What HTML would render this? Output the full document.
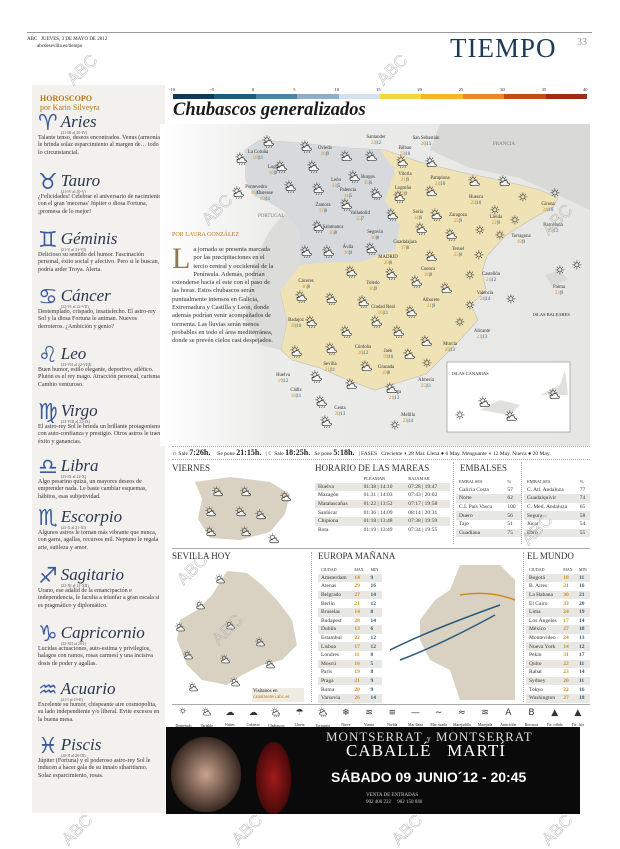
<!DOCTYPE html>
<html><head><meta charset="utf-8">
<style>
*{margin:0;padding:0;box-sizing:border-box}
body{width:620px;height:847px;background:#fff;position:relative;overflow:hidden;font-family:"Liberation Serif",serif;color:#222}
.a{position:absolute}
.sm{font-size:5.5px;line-height:7px}
.hs{font-family:"Liberation Serif",serif;font-style:italic;font-size:17px;color:#2a3550;line-height:17px}
.sym{font-size:22px;color:#3b5aa0;font-family:"DejaVu Sans",sans-serif;line-height:22px}
.body{font-size:6px;line-height:7.4px;color:#333}
.sec{font-size:9px;color:#333}
table{border-collapse:collapse}
td{font-size:5.5px;height:8.6px;padding:0 3px;color:#333}
.g td{background:#e9e7e3}
.wm{position:absolute;font-family:"Liberation Sans",sans-serif;font-size:17px;color:transparent;-webkit-text-stroke:0.4px #aaa;transform:rotate(-45deg)}
.ico{position:absolute}
.lbl{position:absolute;font-size:4.8px;color:#333;line-height:5.5px;text-align:center}
.o{color:#d08a1c}
</style></head><body>

<div class="a" style="left:27px;top:32px;width:565px;height:1px;background:#999"></div>
<div class="a sm" style="left:27px;top:36px;font-size:5px">ABC &nbsp; JUEVES, 3 DE MAYO DE 2012<br>&nbsp; &nbsp; &nbsp; &nbsp; abcdesevilla.es/tiempo</div>
<div class="a" style="left:450px;top:33px;font-size:27px;color:#1c3a5a;letter-spacing:1px">TIEMPO</div>
<div class="a" style="left:577px;top:37px;font-size:10px;color:#999">33</div>

<div class="a" style="left:32px;top:85px;width:133px;height:728px;background:#f2f1ed"></div>
<div class="a" style="left:40px;top:94px;font-size:8px;font-weight:bold;color:#b8761c;line-height:9px">HOROSCOPO<br><span style="font-weight:normal">por Karin Silveyra</span></div>

<div id="horo"></div>

<div id="scale"></div>
<div class="a" style="left:173px;top:100px;font-size:18.5px;font-weight:bold;font-style:italic;color:#1a1a1a">Chubascos generalizados</div>

<svg class="a" style="left:160px;top:124px" width="430" height="322" viewBox="160 124 430 322">
  <defs><linearGradient id="sea" x1="0" x2="1"><stop offset="0" stop-color="#fff"/><stop offset="0.25" stop-color="#ececeb"/><stop offset="1" stop-color="#e6e6e4"/></linearGradient></defs>
  <rect x="160" y="124" width="430" height="322" fill="url(#sea)"/>
  <path d="M440 124 L590 124 L590 210 L560 196 L520 178 L470 168 L430 150 Z" fill="#d9d9d6"/>
  <path d="M245 150 L260 140 L300 143 L350 148 L385 150 L420 162 L460 172 L500 180 L540 190 L558 198 L553 207 L530 220 L505 236 L487 256 L482 272 L486 290 L471 305 L478 320 L460 340 L440 360 L426 374 L400 382 L375 390 L350 381 L320 368 L292 360 L281 350 L287 322 L280 292 L291 262 L300 232 L286 212 L270 202 L255 196 L246 180 Z" fill="#efe3b6" stroke="#bbb" stroke-width="0.6"/>
  <path d="M245 150 L260 140 L300 143 L350 148 L380 150 L395 170 L385 200 L400 225 L395 250 L360 262 L330 262 L300 265 L300 232 L286 212 L270 202 L255 196 L246 180 Z" fill="#d6dadc"/>
  <path d="M300 265 L280 292 L287 322 L281 350 L260 345 L245 320 L250 290 L255 260 L270 230 L286 212 L300 232 Z" fill="#dcdcda"/>
  <path d="M545 275 L560 270 L568 280 L552 286 Z" fill="#d9d9d6"/>
  <rect x="447" y="362" width="123" height="70" fill="#fff" stroke="#888" stroke-width="0.6"/>
  <path d="M480 410 L500 400 L520 405 L510 415 Z M540 395 L560 385 L565 370 L568 395 Z" fill="#e0e0dc"/>
</svg>
<div id="mapicons"></div>
<div class="a sm" style="left:452px;top:370px;font-size:4.5px">ISLAS CANARIAS</div>
<div class="a sm" style="left:258px;top:213px;font-size:5px;color:#777">PORTUGAL</div>
<div class="a sm" style="left:493px;top:141px;font-size:5px;color:#777">FRANCIA</div>
<div class="a sm" style="left:533px;top:311px;font-size:4.5px">ISLAS BALEARES</div>

<div class="a" style="left:172px;top:232px;font-size:6px;color:#b8761c">POR LAURA GONZÁLEZ</div>
<div class="a" style="left:172px;top:246px;width:102px;font-size:6.4px;line-height:8.3px;color:#333"><span style="float:left;font-size:30px;line-height:26px;color:#8a7a5a;margin-right:3px">L</span>a jornada se presenta marcada por las precipitaciones en el tercio central y occidental de la Península. Además, podrían extenderse hacia el este con el paso de las horas. Estos chubascos serán puntualmente intensos en Galicia, Extremadura y Castilla y León, donde además podrían venir acompañados de tormenta. Las lluvias serán menos probables en todo el área mediterránea, donde se prevén cielos casi despejados.</div>

<div class="a" style="left:172px;top:446px;width:418px;height:14px;border-top:1px dotted #aaa;border-bottom:1px dotted #aaa;font-size:5.5px;line-height:12px;white-space:nowrap">
☼ Sale <b style="font-size:8px">7:26h.</b> &nbsp; &nbsp; Se pone <b style="font-size:8px">21:15h.</b> &nbsp; | ☾ Sale <b style="font-size:8px">18:25h.</b> &nbsp; Se pone <b style="font-size:8px">5:18h.</b> &nbsp; | FASES &nbsp; Creciente ◗ 28 Mar. Llena ● 6 May. Menguante ◖ 12 May. Nueva ● 20 May.</div>

<div class="a sec" style="left:172px;top:463px">VIERNES</div>
<svg class="a" style="left:190px;top:474px" width="110" height="70"><path d="M5 8 L40 3 L80 8 L100 20 L95 40 L80 58 L50 66 L20 64 L8 45 L12 25 Z" fill="#d9d2c2"/></svg>
<div id="vicons"></div>

<div class="a sec" style="left:315px;top:463px">HORARIO DE LAS MAREAS</div>
<table class="a" style="left:315px;top:474px;width:135px">
<tr><td></td><td style="font-size:4.5px">PLEAMAR</td><td style="font-size:4.5px">BAJAMAR</td></tr>
<tr class="g"><td>Huelva</td><td>01:38 | 14:10</td><td>07:28 | 19:47</td></tr>
<tr><td>Mazagón</td><td>01:31 | 14:03</td><td>07:43 | 20:02</td></tr>
<tr class="g"><td>Matalascañas</td><td>01:22 | 13:52</td><td>07:17 | 19:58</td></tr>
<tr><td>Sanlúcar</td><td>01:36 | 14:09</td><td>08:14 | 20:31</td></tr>
<tr class="g"><td>Chipiona</td><td>01:18 | 13:48</td><td>07:38 | 19:59</td></tr>
<tr><td>Rota</td><td>01:19 | 13:49</td><td>07:34 | 19:55</td></tr>
</table>
<div class="a" style="left:453px;top:462px;width:1px;height:82px;border-left:1px dotted #aaa"></div>

<div class="a sec" style="left:460px;top:463px">EMBALSES</div>
<table class="a" style="left:456px;top:477px;width:66px">
<tr><td style="font-size:4.5px">EMBALSES</td><td style="font-size:4.5px">%</td></tr>
<tr><td>Galicia Costa</td><td>57</td></tr><tr class="g"><td>Norte</td><td>62</td></tr><tr><td>C.I. País Vasco</td><td>100</td></tr><tr class="g"><td>Duero</td><td>56</td></tr><tr><td>Tajo</td><td>51</td></tr><tr class="g"><td>Guadiana</td><td>75</td></tr></table>
<div class="a" style="left:521px;top:462px;width:1px;height:82px;border-left:1px dotted #aaa"></div>
<table class="a" style="left:524px;top:477px;width:66px">
<tr><td style="font-size:4.5px">EMBALSES</td><td style="font-size:4.5px">%</td></tr>
<tr><td>C. Atl. Andaluza</td><td>77</td></tr><tr class="g"><td>Guadalquivir</td><td>74</td></tr><tr><td>C. Med. Andaluza</td><td>65</td></tr><tr class="g"><td>Segura</td><td>58</td></tr><tr><td>Júcar</td><td>54</td></tr><tr class="g"><td>Ebro</td><td>55</td></tr></table>
<div class="a" style="left:172px;top:548px;width:418px;height:1px;background:#aaa"></div>

<div class="a sec" style="left:172px;top:551px">SEVILLA HOY</div>
<svg class="a" style="left:172px;top:565px" width="135" height="135"><path d="M55 6 L75 8 L90 20 L105 35 L120 55 L125 80 L110 95 L90 100 L70 110 L55 120 L30 115 L15 100 L5 75 L8 55 L25 45 L40 30 Z" fill="#d9d2c2"/></svg>
<div id="sicons"></div>
<div class="a" style="left:252px;top:688px;width:52px;height:14px;background:#efece4;font-size:5px;line-height:6px;padding:1px">Visítanos en<br><span style="color:#b8761c">canalmeteo.abc.es</span></div>
<div class="a" style="left:311px;top:552px;width:1px;height:150px;border-left:1px dotted #aaa"></div>

<div class="a sec" style="left:318px;top:551px">EUROPA MAÑANA</div>
<svg class="a" style="left:390px;top:560px" width="130" height="140"><path d="M30 60 L45 40 L60 30 L70 5 L110 5 L125 20 L125 140 L70 140 L60 110 L40 100 L30 80 Z" fill="#d9d2c2"/><path d="M0 90 Q40 70 110 45" stroke="#2d5a7a" fill="none" stroke-width="1.5"/><path d="M10 100 Q50 85 105 55" stroke="#2d5a7a" fill="none" stroke-width="1.5"/><path d="M70 35 Q100 30 125 40" stroke="#d08a1c" fill="none" stroke-width="1.5"/></svg>
<table class="a" style="left:318px;top:565px;width:64px" id="eu"></table>
<div class="a" style="left:523px;top:552px;width:1px;height:150px;border-left:1px dotted #aaa"></div>
<div class="a sec" style="left:527px;top:551px">EL MUNDO</div>
<table class="a" style="left:526px;top:565px;width:64px" id="wd"></table>

<div class="a" style="left:172px;top:704px;width:418px;height:1px;background:#aaa"></div>
<div id="leg"></div>

<div class="a" style="left:166px;top:727px;width:414px;height:87px;background:#0a0a0a;overflow:hidden">
  <div class="a" style="left:5px;top:10px;width:70px;height:75px;border-radius:40%;background:radial-gradient(#c9a48e,#3a2a22 70%,transparent 72%)"></div>
  <div class="a" style="left:90px;top:15px;width:35px;height:72px;border-radius:40% 40% 10% 10%;background:radial-gradient(#a21a1a,#4a0a0a 70%,transparent 72%)"></div>
  <div class="a" style="left:160px;top:2px;color:#ddd;font-size:13px;letter-spacing:1px;white-space:nowrap">MONTSERRAT <span style="font-size:8px">y</span> MONTSERRAT</div>
  <div class="a" style="left:180px;top:14px;color:#fff;font-size:17px;letter-spacing:1px;white-space:nowrap">CABALLÉ &nbsp; MARTÍ</div>
  <div class="a" style="left:165px;top:42px;color:#fff;font-family:'Liberation Sans',sans-serif;font-weight:bold;font-size:14px;white-space:nowrap">SÁBADO 09 JUNIO´12 - 20:45</div>
  <div class="a" style="left:200px;top:65px;color:#ccc;font-size:5px;line-height:7px">VENTA DE ENTRADAS<br>902 400 222 &nbsp; &nbsp; 902 150 040</div>
</div>

<script>
const signs=[["♈","Aries",113,"(21-III al 20-IV)","Talante tenso, deseos encontrados. Venus (armonía) le brinda solaz esparcimiento al margen de… todo lo circunstancial."],
["♉","Tauro",172,"(21-IV al 20-V)","¿Felicidades! Celebrar el aniversario de nacimiento con el gran 'mecenas' Júpiter o diosa Fortuna, ¡promesa de lo mejor!"],
["♊","Géminis",230,"(21-V al 21-VI)","Delicioso su sentido del humor. Fascinación personal, éxito social y afectivo. Pero si le buscan, podría arder Troya. Alerta."],
["♋","Cáncer",287,"(22-VI al 22-VII)","Destemplado, crispado, insatisfecho. El astro-rey Sol y la diosa Fortuna le animan. Nuevos derroteros. ¿Ambición y genio?"],
["♌","Leo",345,"(23-VII al 22-VIII)","Buen humor, estilo elegante, deportivo, atlético. Plutón es el rey mago. Atracción personal, carisma. Cambio venturoso."],
["♍","Virgo",402,"(23-VIII al 22-IX)","El astro-rey Sol le brinda un brillante protagonismo con auto-confianza y prestigio. Otros astros le traen éxito y ganancias."],
["♎","Libra",457,"(23-IX al 22-X)","Algo pesarino quizá, un mayores deseos de emprender nada. Le baste cambiar esquemas, hábitos, esas subjetividad."],
["♏","Escorpio",508,"(23-X al 21-XI)","Algunos astros le tornan más vibrante que nunca, con garra, agallas, recursos mil. Neptuno le regala arte, sutileza y amor."],
["♐","Sagitario",566,"(22-XI al 21-XII)","Urano, ese adalid de la emancipación e independencia, le faculta a triunfar a gran escala si es pragmático y diplomático."],
["♑","Capricornio",624,"(22-XII al 20-I)","Lucidas actuaciones, auto-estima y privilegios, halagos con ramos, rosas carmesí y una incisiva dosis de poder y agallas."],
["♒","Acuario",680,"(21-I al 19-II)","Excelente su humor, chispeante aire cosmopolita, su lado independiente y/o liberal. Evite excesos en la buena mesa."],
["♓","Piscis",736,"(20-II al 20-III)","Júpiter (Fortuna) y el poderoso astro-rey Sol le inducen a hacer gala de su innato sibaritismo. Solaz esparcimiento, rosas."]];
const H=document.getElementById('horo');
signs.forEach(s=>{
 const d=document.createElement('div');d.className='a';d.style.left='38px';d.style.top=s[2]+'px';d.style.width='124px';
 
 
 d.innerHTML='<span class="sym" style="float:left;margin-right:3px">'+s[0]+'</span><div class="hs">'+s[1]+'</div><div style="font-size:4px;color:#555">'+s[3]+'</div><div class="body">'+s[4]+'</div>';
 H.appendChild(d);
});
const ticks=[-10,-5,0,5,10,15,20,25,30,35,40];
const cols=["#0c3c5a","#1e5c82","#4b83aa","#8db0ca","#d2e2ee","#f6d43c","#f4b921","#e88b25","#c6491e","#9c2d14"];
const S=document.getElementById('scale');
const x0=173,x1=587,w=(x1-x0)/10;
cols.forEach((c,i)=>{const e=document.createElement('div');e.className='a';e.style.cssText='left:'+(x0+i*w)+'px;top:94px;width:'+(w+0.5)+'px;height:5px;background:'+c;

S.appendChild(e);});
ticks.forEach((t,i)=>{const e=document.createElement('div');e.className='a';e.style.cssText='left:'+(x0+i*w-4)+'px;top:87px;font-size:4.5px';e.textContent=t;

S.appendChild(e);});
function iconSvg(t,s){s=s||13;
 const sun='<circle cx="6" cy="6" r="2.6" fill="none" stroke="#333" stroke-width="0.9"/><g stroke="#333" stroke-width="0.8"><line x1="6" y1="0.5" x2="6" y2="2.3"/><line x1="6" y1="9.7" x2="6" y2="11.5"/><line x1="0.5" y1="6" x2="2.3" y2="6"/><line x1="9.7" y1="6" x2="11.5" y2="6"/><line x1="2.2" y1="2.2" x2="3.3" y2="3.3"/><line x1="8.7" y1="8.7" x2="9.8" y2="9.8"/><line x1="9.8" y1="2.2" x2="8.7" y2="3.3"/><line x1="2.2" y1="9.8" x2="3.3" y2="8.7"/></g>';
 const cloud='<path d="M5 13 Q2 13 2.5 10.5 Q3 8.5 5.5 9 Q6.5 6.5 9.5 7 Q12 7.5 12 10 Q14.5 10 14 12 Q13.5 13 12 13 Z" fill="#f4f4f2" stroke="#333" stroke-width="0.9"/>';
 const rain='<g stroke="#333" stroke-width="0.7"><line x1="6" y1="14" x2="5" y2="16"/><line x1="9" y1="14" x2="8" y2="16"/><line x1="12" y1="14" x2="11" y2="16"/></g>';
 let inner=t==='s'?sun:t==='c'?sun+cloud:sun+cloud+rain;
 return '<svg width="'+s+'" height="'+s+'" viewBox="0 0 16 16">'+inner+'</svg>';}
const cities=[["La Coruña","18|11",255,150],["Oviedo","16|9",322,146],["Santander","23|12",373,135],["Bilbao","23|10",402,146],["San Sebastián","20|13",423,136],["Lugo","16|8",270,165],["Pontevedra","16|11",253,185],["Ourense","19|11",262,191],["León","13|5",333,178],["Burgos","15|6",365,175],["Vitoria","21|9",402,172],["Pamplona","21|10",437,176],["Palencia","14|5",345,188],["Logroño","22|9",400,186],["Huesca","23|10",473,195],["Girona","24|10",545,202],["Zamora","17|8",320,203],["Valladolid","15|7",357,211],["Soria","14|6",415,210],["Zaragoza","25|9",455,213],["Lleida","22|9",493,215],["Barcelona","23|13",550,223],["Salamanca","16|8",330,225],["Segovia","16|8",372,230],["Tarragona","19|9",518,234],["Guadalajara","17|8",402,240],["Ávila","16|9",345,245],["MADRID","20|8",385,255],["Teruel","22|8",455,247],["Cuenca","18|8",425,267],["Castellón","21|12",488,272],["Palma","23|9",556,285],["Cáceres","16|8",303,279],["Toledo","16|9",370,281],["Valencia","24|14",482,291],["Albacete","21|9",428,298],["Badajoz","20|10",293,318],["Ciudad Real","16|11",380,305],["Alicante","21|13",479,329],["Córdoba","20|12",360,345],["Jaén","19|10",385,349],["Murcia","25|13",447,342],["Sevilla","21|11",327,362],["Granada","19|8",383,365],["Almería","25|11",423,378],["Huelva","19|12",280,373],["Cádiz","18|11",293,388],["Málaga","21|13",391,390],["Ceuta","20|13",337,406],["Melilla","23|14",405,413]];
const M=document.getElementById('mapicons');
cities.forEach(c=>{const e=document.createElement('div');e.className='lbl';e.style.left=(c[2]-12)+'px';e.style.top=c[3]+'px';e.style.width='30px';


e.innerHTML=c[0]+'<br><span class="o">'+c[1].split('|')[0]+'</span>|<span style="color:#2d5a7a">'+c[1].split('|')[1]+'</span>';M.appendChild(e);});
const icons=[[262,135,"r"],[300,140,"r"],[235,152,"r"],[275,160,"r"],[307,160,"r"],[340,150,"c"],[365,150,"c"],[396,155,"r"],[425,156,"c"],[232,186,"r"],[284,180,"r"],[312,182,"r"],[348,170,"r"],[370,187,"r"],[393,190,"r"],[425,185,"c"],[468,175,"c"],[498,175,"c"],[518,192,"s"],[550,188,"s"],[340,198,"r"],[386,208,"r"],[430,208,"r"],[490,205,"s"],[510,215,"s"],[312,220,"r"],[415,222,"r"],[445,228,"r"],[475,225,"s"],[495,230,"s"],[300,245,"r"],[322,245,"r"],[365,242,"r"],[425,250,"c"],[474,250,"s"],[345,265,"r"],[385,267,"r"],[410,275,"r"],[440,282,"c"],[465,270,"s"],[555,265,"s"],[572,260,"s"],[295,290,"r"],[325,292,"r"],[357,295,"r"],[405,305,"r"],[465,300,"s"],[506,294,"s"],[305,315,"r"],[340,325,"r"],[370,315,"r"],[392,325,"r"],[420,335,"c"],[455,317,"s"],[290,345,"r"],[325,342,"r"],[360,360,"c"],[403,348,"c"],[422,358,"s"],[310,370,"r"],[345,378,"c"],[385,382,"c"],[315,395,"r"],[320,415,"r"],[390,420,"s"],[455,410,"s"],[478,396,"c"],[505,410,"c"],[548,388,"c"]];
icons.forEach(c=>{const e=document.createElement('div');e.className='ico';e.style.left=c[0]+'px';e.style.top=c[1]+'px';e.innerHTML=iconSvg(c[2]);

M.appendChild(e);});
[[212,485,"c"],[240,485,"c"],[280,490,"c"],[205,505,"c"],[235,505,"c"],[255,508,"c"],[205,525,"c"],[240,525,"c"],[268,532,"c"]].forEach(c=>{const e=document.createElement('div');e.className='ico';e.style.left=c[0]+'px';e.style.top=c[1]+'px';e.innerHTML=iconSvg(c[2],12);

document.getElementById('vicons').appendChild(e);});
[[215,572,"c"],[195,598,"c"],[175,620,"c"],[225,618,"c"],[255,635,"c"],[183,648,"c"],[220,652,"c"],[265,657,"c"],[188,680,"c"],[230,675,"c"]].forEach(c=>{const e=document.createElement('div');e.className='ico';e.style.left=c[0]+'px';e.style.top=c[1]+'px';e.innerHTML=iconSvg(c[2],11);

document.getElementById('sicons').appendChild(e);});
const eu=[["Amsterdam","14","9"],["Atenas","29","16"],["Belgrado","27","14"],["Berlín","21","12"],["Bruselas","14","8"],["Budapest","28","14"],["Dublín","13","6"],["Estambul","22","12"],["Lisboa","17","12"],["Londres","11","8"],["Moscú","16","5"],["París","19","8"],["Praga","21","9"],["Roma","20","9"],["Varsovia","26","14"]];
const wd=[["Bogotá","18","11"],["B. Aires","21","16"],["La Habana","30","21"],["El Cairo","33","20"],["Lima","24","19"],["Los Ángeles","17","14"],["México","27","18"],["Montevideo","24","13"],["Nueva York","14","12"],["Pekín","31","17"],["Quito","22","11"],["Rabat","23","14"],["Sydney","20","11"],["Tokyo","22","16"],["Washington","27","18"]];
function fill(id,rows){const t=document.getElementById(id);let h='<tr><td style="font-size:4px;height:7px">CIUDAD</td><td style="font-size:4px">MAX</td><td style="font-size:4px">MIN</td></tr>';
rows.forEach((r,i)=>{h+='<tr'+(i%2==0?' class="g"':'')+'><td style="height:8.4px">'+r[0]+'</td><td class="o"><b>'+r[1]+'</b></td><td style="color:#2d5a7a"><b>'+r[2]+'</b></td></tr>';});t.innerHTML=h;}
fill('eu',eu);fill('wd',wd);
const leg=[["s","Despejado"],["c","Variable"],["☁","Nubes"],["☁","Cubierto"],["r","Chubascos"],["☂","Lluvia"],["r","Tormenta"],["❄","Nieve"],["≋","Viento"],["≡","Niebla"],["—","Mar llana"],["∼","Mar rizada"],["≈","Marejadilla"],["≋","Marejada"],["A","Anticiclón"],["B","Borrasca"],["▲","Fte. cálido"],["▲","Fte. frío"]];
const L=document.getElementById('leg');
leg.forEach((l,i)=>{const e=document.createElement('div');e.className='a';e.style.cssText='left:'+(172+i*23.2)+'px;top:707px;width:23px;text-align:center;font-size:9px;line-height:10px';


const g=(l[0].length===1&&'scr'.includes(l[0]))?iconSvg(l[0],10):'<span style="font-family:DejaVu Sans,sans-serif;color:#333">'+l[0]+'</span>';
e.innerHTML=g+'<br><span style="font-size:3.8px">'+l[1]+'</span>';L.appendChild(e);});
[[65,60],[375,60],[200,200],[540,210],[175,560],[520,520],[210,620],[230,820],[390,820],[540,820],[60,820]].forEach(p=>{const e=document.createElement('div');e.className='wm';e.style.left=p[0]+'px';e.style.top=p[1]+'px';e.textContent='ABC';

document.body.appendChild(e);});
</script>
</body></html>
